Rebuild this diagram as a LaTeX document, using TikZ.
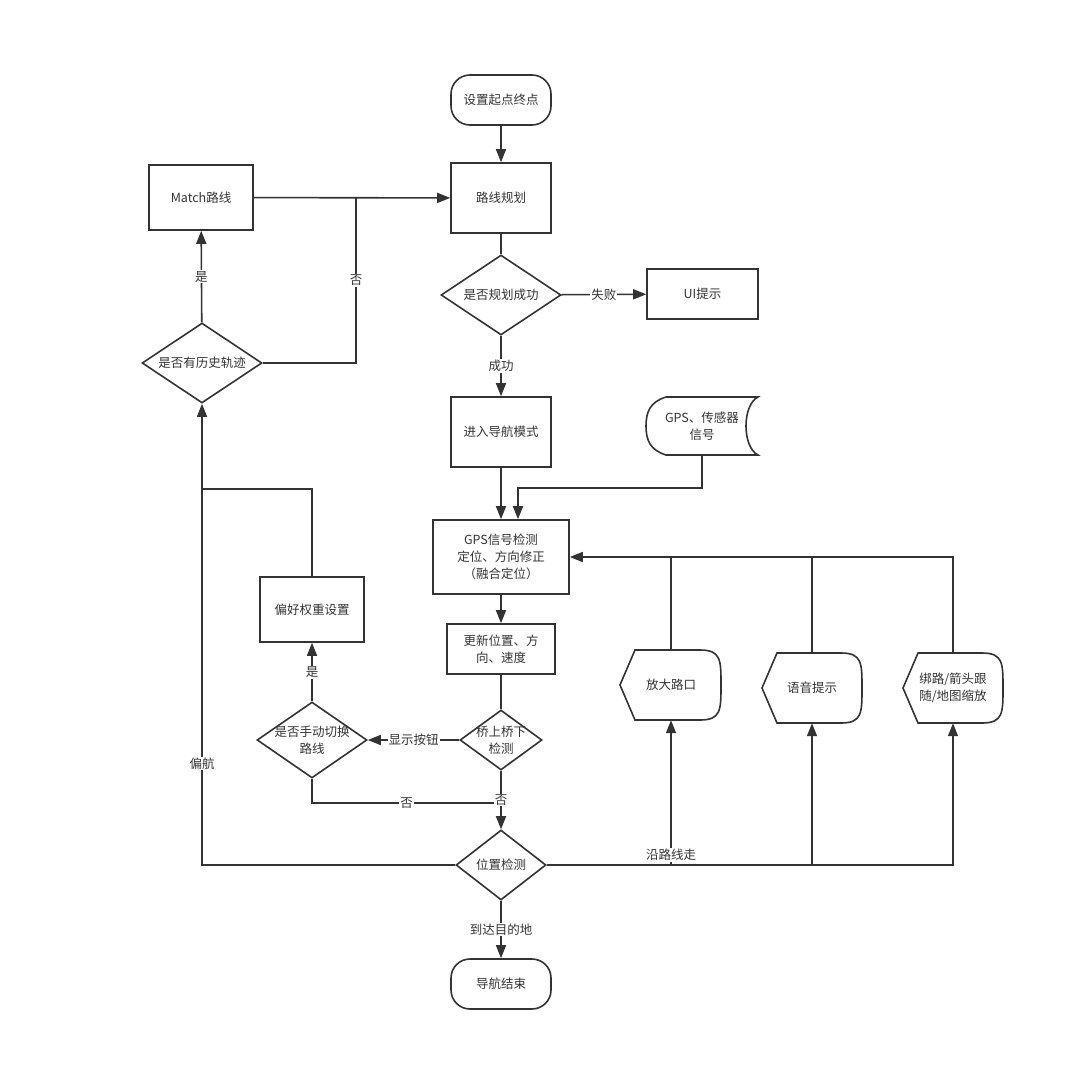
\documentclass[tikz,border=0pt]{standalone}
\usepackage{fontspec}
\setmainfont{Noto Sans CJK SC}
\usetikzlibrary{shapes.geometric,arrows.meta}
\definecolor{ink}{HTML}{333333}

\begin{document}
\begin{tikzpicture}[x=1pt, y=-1pt,
    every node/.style={font=\fontsize{12.5}{17}\selectfont, text=ink, align=center},
    line/.style={draw=ink, line width=1.6pt},
    arr/.style={line, -{Triangle[length=13pt,width=10pt]}},
    box/.style={line, rectangle, inner sep=0pt},
    term/.style={line, rectangle, rounded corners=19pt, inner sep=0pt},
    dec/.style={line, diamond, inner sep=0pt},
    lbl/.style={fill=white, inner sep=1pt}]

    \useasboundingbox (0,0) rectangle (1065,1071);

    \node[term, minimum width=100, minimum height=50] (start) at (501,100) {设置起点终点};
    \node[box, minimum width=100, minimum height=70] (plan) at (501,198) {路线规划};
    \node[box, minimum width=104, minimum height=65] (match) at (201,197.5) {Match路线};
    \node[dec, aspect=1.5, minimum width=120, minimum height=80] (ok) at (501,295) {是否规划成功};
    \node[box, minimum width=111, minimum height=50] (ui) at (702.5,294) {UI提示};
    \node[dec, aspect=1.5, minimum width=120, minimum height=80] (hist) at (202,363) {是否有历史轨迹};
    \node[box, minimum width=100, minimum height=70] (nav) at (501,432) {进入导航模式};
    \node[box, minimum width=136, minimum height=74] (gps) at (501,557) {GPS信号检测\\定位、方向修正\\（融合定位）};
    \node[box, minimum width=108, minimum height=50] (upd) at (501,649) {更新位置、方\\向、速度};
    \node[box, minimum width=104, minimum height=65] (pref) at (312,609.5) {偏好权重设置};
    \node[dec, minimum width=110, minimum height=76] (hand) at (312,740) {};
    \node (handtxt) at (hand) {是否手动切换\\路线};
    \node[dec, minimum width=82, minimum height=60] (bridge) at (501,740) {};
    \node (bridgetxt) at (bridge) {桥上桥下\\检测};
    \node[dec, aspect=1.3, minimum width=90, minimum height=70] (pos) at (501,865) {位置检测};
    \node[term, minimum width=100, minimum height=50] (end) at (501,984) {导航结束};

    % stored data
    \node[minimum width=112, minimum height=58] (sensor) at (702,426) {GPS、传感器\\信号};
    \draw[line] (666,397) -- (758,397) .. controls (742,405) and (742,447) .. (758,455)
        -- (666,455) .. controls (650,450) and (646,440) .. (646,426)
        .. controls (646,412) and (650,402) .. (666,397);

    % displays
    \node[minimum width=100, minimum height=70] (zoom) at (671,685) {放大路口};
    \draw[line] (635,650) -- (700,650) .. controls (721,650) and (721,660) .. (721,685)
        .. controls (721,710) and (721,720) .. (700,720) -- (635,720) -- (620,685) -- cycle;
    \node[minimum width=100, minimum height=70] (voice) at (812,688) {语音提示};
    \draw[line] (777,653) -- (841,653) .. controls (862,653) and (862,663) .. (862,688)
        .. controls (862,713) and (862,723) .. (841,723) -- (777,723) -- (762,688) -- cycle;
    \node[minimum width=100, minimum height=70] (bind) at (953,688) {绑路/箭头跟\\随/地图缩放};
    \draw[line] (918,653) -- (982,653) .. controls (1003,653) and (1003,663) .. (1003,688)
        .. controls (1003,713) and (1003,723) .. (982,723) -- (918,723) -- (903,688) -- cycle;

    \coordinate (j1) at (356,198);
    \coordinate (j2) at (202,489);
    \coordinate (j3) at (501,803);
    \coordinate (s1) at (518,488);

    \draw[arr] (start) -- (plan);
    \draw[arr] (match) -- (plan);
    \draw[line] (hist.east) -| node[lbl, pos=0.75] {否} (j1);
    \draw[arr] (hist) -- node[lbl] {是} (match);
    \draw[line] (plan) -- (ok);
    \draw[arr] (ok) -- node[lbl] {失败} (ui);
    \draw[arr] (ok) -- node[lbl] {成功} (nav);
    \draw[arr] (nav) -- (gps);
    \draw[arr] (sensor.south) |- (s1) -- (s1 |- gps.north);
    \draw[arr] (gps) -- (upd);
    \draw[line] (upd) -- (bridge);
    \draw[arr] (bridge) -- node[lbl] {显示按钮} (hand);
    \draw[arr] (hand) -- node[lbl] {是} (pref);
    \draw[line] (pref.north) |- (j2);
    \draw[line] (hand.south) |- node[lbl, pos=0.75] {否} (j3);
    \draw[arr] (bridge) -- node[lbl] {否} (pos);
    \draw[arr] (pos.west) -| node[lbl, pos=0.61] {偏航} (hist.south);
    \draw[arr] (pos) -- node[lbl] {到达目的地} (end);

    \draw[arr] (pos.east) -| (bind.south);
    \draw[arr] (zoom.south |- pos) -- (zoom.south);
    \draw[arr] (voice.south |- pos) -- (voice.south);
    \node[lbl] (along) at (671,855) {沿路线走};

    \draw[arr] (bind.north) |- (gps.east);
    \draw[line] (zoom.north) -- (zoom.north |- gps.east);
    \draw[line] (voice.north) -- (voice.north |- gps.east);

\end{tikzpicture}
\end{document}
